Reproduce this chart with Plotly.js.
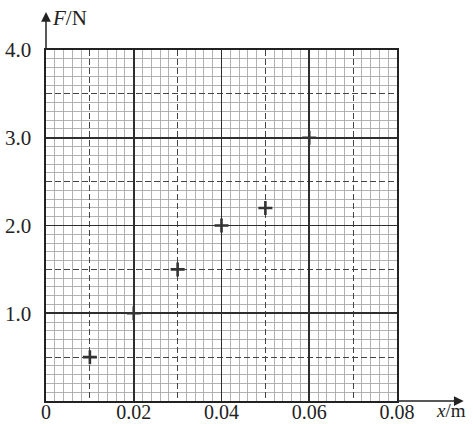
<!DOCTYPE html>
<html>
<head>
<meta charset="utf-8">
<script src="https://cdn.plot.ly/plotly-3.0.1.min.js"></script>
<style>html,body{margin:0;padding:0;background:#fff;}#chart{width:473px;height:424px;}</style>
</head>
<body>
<div id="chart"></div>
<script>
// Data
const displacement = [0.01, 0.02, 0.03, 0.04, 0.05, 0.06]; // x / m
const force = [0.5, 1.0, 1.5, 2.0, 2.2, 3.0];                // F / N
const xTickVals = [0, 0.02, 0.04, 0.06, 0.08];
const xTickText = ['0', '0.02', '0.04', '0.06', '0.08'];
const yTickVals = [1, 2, 3, 4];
const yTickText = ['1.0', '2.0', '3.0', '4.0'];
const xRange = [0, 0.08];
const yRange = [0, 4];

const font = {family: 'Liberation Serif, Times New Roman, serif', size: 21, color: '#222'};
const xFont = {family: 'Liberation Serif, Times New Roman, serif', size: 20, color: '#222'};

const traces = [
  {x: [], y: [], type: 'scatter', mode: 'markers', xaxis: 'x', yaxis: 'y', hoverinfo: 'skip', showlegend: false},
  {x: displacement, y: force, type: 'scatter', mode: 'markers', xaxis: 'x2', yaxis: 'y2',
   marker: {symbol: 'cross-thin', size: 10, line: {width: 2.6, color: '#333'}, color: '#333'},
   showlegend: false, hoverinfo: 'x+y'}
];

const layout = {
  width: 473, height: 424,
  margin: {l: 46, r: 76, t: 50, b: 23},
  paper_bgcolor: '#ffffff', plot_bgcolor: '#ffffff',
  font: font,
  showlegend: false,
  xaxis: {
    range: xRange, tickmode: 'linear', tick0: 0, dtick: 0.01,
    showticklabels: false, ticks: '', zeroline: false, showline: false,
    showgrid: true, gridcolor: '#444', gridwidth: 1.1, griddash: '6px,3px',
    minor: {tickmode: 'linear', dtick: 0.002, showgrid: true, gridcolor: '#aaaaaa', gridwidth: 0.9, griddash: 'solid', ticks: ''}
  },
  yaxis: {
    range: yRange, tickmode: 'linear', tick0: 0, dtick: 0.5,
    showticklabels: false, ticks: '', zeroline: false, showline: false,
    showgrid: true, gridcolor: '#444', gridwidth: 1.1, griddash: '6px,3px',
    minor: {tickmode: 'linear', dtick: 0.1, showgrid: true, gridcolor: '#aaaaaa', gridwidth: 0.9, griddash: 'solid', ticks: ''}
  },
  xaxis2: {
    overlaying: 'x', anchor: 'y2', side: 'bottom', range: xRange,
    tickmode: 'array', tickvals: xTickVals, ticktext: xTickText,
    ticks: '', ticklabelstandoff: -8, tickfont: xFont,
    showgrid: true, gridcolor: '#2e2e2e', gridwidth: 1.6, zeroline: false,
    showline: true, mirror: true, linecolor: '#222', linewidth: 1.6
  },
  yaxis2: {
    overlaying: 'y', anchor: 'x2', side: 'left', range: yRange,
    tickmode: 'array', tickvals: yTickVals, ticktext: yTickText,
    ticks: '', ticklabelstandoff: 9, tickfont: font,
    showgrid: true, gridcolor: '#2e2e2e', gridwidth: 1.6, zeroline: false,
    showline: true, mirror: true, linecolor: '#222', linewidth: 1.6
  },
  annotations: [
    {xref: 'paper', yref: 'paper', x: 0, y: 1.108, ax: 0, ay: 39, axref: 'pixel', ayref: 'pixel',
     text: '', showarrow: true, arrowhead: 2, arrowsize: 1.3, arrowwidth: 1.5, arrowcolor: '#222'},
    {xref: 'paper', yref: 'paper', x: 1.19, y: 0, ax: -68, ay: 0, axref: 'pixel', ayref: 'pixel',
     text: '', showarrow: true, arrowhead: 2, arrowsize: 1.3, arrowwidth: 1.5, arrowcolor: '#222'},
    {xref: 'paper', yref: 'paper', x: 0.01, y: 1.05, xanchor: 'left', yanchor: 'bottom',
     text: '<i>F</i>/N', showarrow: false, font: font},
    {xref: 'paper', yref: 'paper', x: 1.105, y: 0.008, xanchor: 'left', yanchor: 'top',
     text: '<i>x</i>/m', showarrow: false, font: {family: xFont.family, size: 19, color: '#222'}}
  ]
};

Plotly.newPlot('chart', traces, layout, {displayModeBar: false, staticPlot: true});
</script>
</body>
</html>
